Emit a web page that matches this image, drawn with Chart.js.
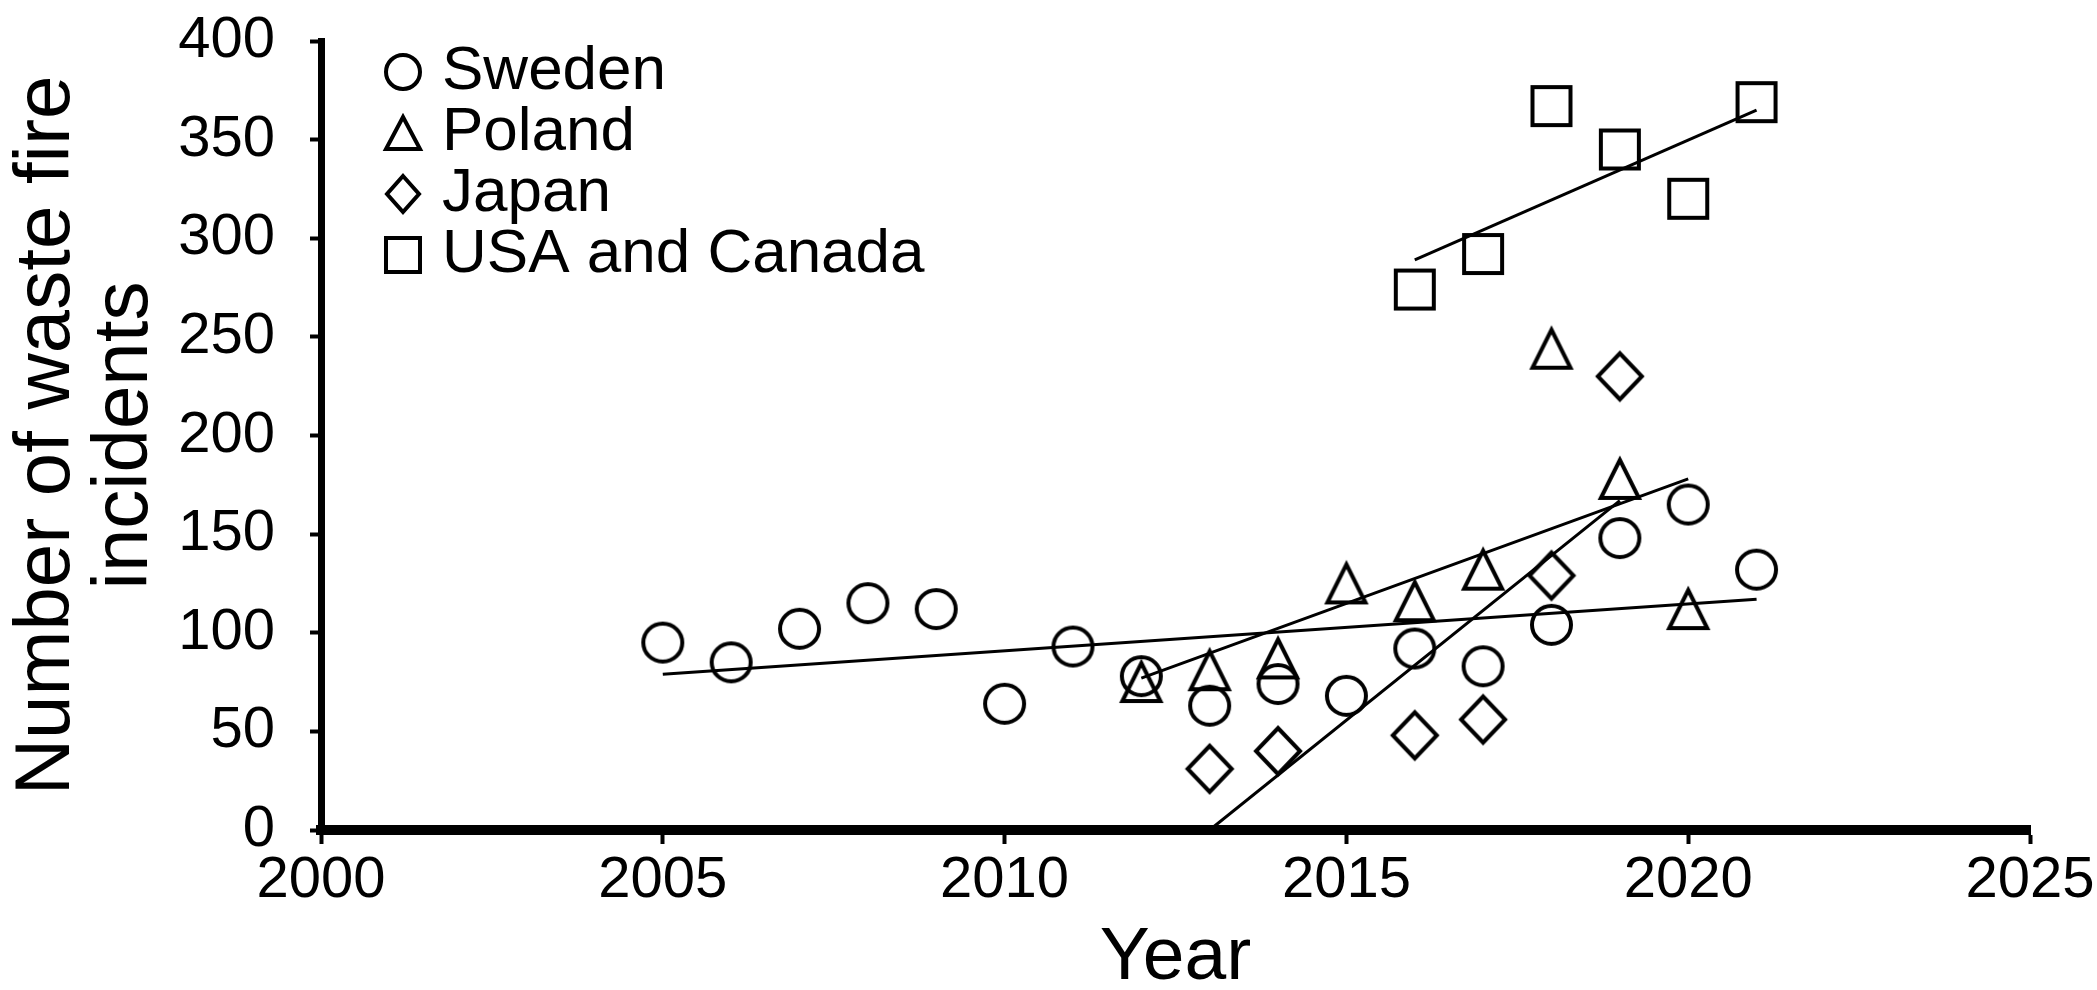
<!DOCTYPE html>
<html>
<head>
<meta charset="utf-8">
<script src="https://cdn.jsdelivr.net/npm/chart.js@4"></script>
<style>
html,body{margin:0;background:#fff}
#wrap{width:2097px;height:990px;position:relative}
</style>
</head>
<body>
<div id="wrap"><canvas id="chart"></canvas></div>
<script>
// values
const SE_YEARS = [2005,2006,2007,2008,2009,2010,2011,2012,2013,2014,2015,2016,2017,2018,2019,2020,2021];
const SE_VALUES = [95,85,102,115,112,64,93,78,63,74,68,92,83,104,148,165,132];
const PL_YEARS = [2012,2013,2014,2015,2016,2017,2018,2019,2020];
const PL_VALUES = [75,81,87,125,116,132,244,178,112];
const JP_YEARS = [2013,2014,2016,2017,2018,2019];
const JP_VALUES = [31,40,48,56,129,230];
const US_YEARS = [2016,2017,2018,2019,2020,2021];
const US_VALUES = [274,292,367,345,320,369];

// trend line end points
const SE_TREND_X = [2005,2021], SE_TREND_Y = [79,117];
const PL_TREND_X = [2012,2020], PL_TREND_Y = [77,178];
const JP_TREND_X = [2013,2019], JP_TREND_Y = [0,167];
const US_TREND_X = [2016,2021], US_TREND_Y = [289,365];

const X_TICKS = [2000,2005,2010,2015,2020,2025];
const Y_TICKS = [0,50,100,150,200,250,300,350,400];

const FONT = "'Liberation Sans', Arial, sans-serif";
Chart.defaults.font.family = FONT;
Chart.defaults.color = '#000';

// outline marker drawn on a small canvas; dx moves the shape off the image centre
function marker(kind, w, h, dx){
  dx = dx || 0;
  const c = document.createElement('canvas');
  c.width = w + 8 + 2*Math.abs(dx); c.height = h + 8;
  const g = c.getContext('2d');
  g.lineWidth = 4; g.strokeStyle = '#000';
  const cx = c.width/2 + dx, cy = c.height/2, rx = w/2 - 2, ry = h/2 - 2;
  g.beginPath();
  if(kind==='circle') g.ellipse(cx,cy,rx,ry,0,0,Math.PI*2);
  else if(kind==='triangle'){ g.moveTo(cx,cy-ry); g.lineTo(cx+rx,cy+ry); g.lineTo(cx-rx,cy+ry); g.closePath(); }
  else if(kind==='diamond'){ g.moveTo(cx,cy-ry); g.lineTo(cx+rx,cy); g.lineTo(cx,cy+ry); g.lineTo(cx-rx,cy); g.closePath(); }
  else g.rect(cx-rx,cy-ry,rx*2,ry*2);
  g.stroke();
  return c;
}

// legend marks sit 32px right of where the legend box would centre them
const LEGEND_MARKS = [
  marker('circle',38,38,32), marker('triangle',38,36,32),
  marker('diamond',36,40,32), marker('rect',38,38,32)
];

const pairs = (xs, ys) => xs.map((x,i)=>({x, y: ys[i]}));

function points(label, xs, ys, style){
  return {label, data: pairs(xs, ys), pointStyle: style, pointRadius: 20, pointHoverRadius: 20,
    borderColor:'#000', backgroundColor:'rgba(0,0,0,0)', order: 1};
}
function trend(xs, ys){
  return {label:'', data: pairs(xs, ys), showLine:true, pointRadius:0, borderColor:'#000',
    borderWidth:3, fill:false, order: 0};
}

// legend sits inside the plot, top-left, like the reference
const legendPlace = {
  id:'legendPlace',
  afterLayout(ch){
    const lg = ch.legend, ca = ch.chartArea; if(!lg) return;
    const w = lg.width, h = lg.height;
    lg.left = ca.left + 11; lg.right = lg.left + w;
    lg.top = ca.top + 1; lg.bottom = lg.top + h;
  }
};

new Chart(document.getElementById('chart'), {
  type:'scatter',
  data:{datasets:[
    points('Sweden', SE_YEARS, SE_VALUES, marker('circle',43,42)),
    points('Poland', PL_YEARS, PL_VALUES, marker('triangle',42,42)),
    points('Japan', JP_YEARS, JP_VALUES, marker('diamond',48,50)),
    points('USA and Canada', US_YEARS, US_VALUES, marker('rect',42,42)),
    trend(SE_TREND_X, SE_TREND_Y),
    trend(PL_TREND_X, PL_TREND_Y),
    trend(JP_TREND_X, JP_TREND_Y),
    trend(US_TREND_X, US_TREND_Y),
  ]},
  options:{
    responsive:true, maintainAspectRatio:false, animation:false,
    layout:{padding:{top:41,right:67,left:0,bottom:0}},
    plugins:{
      tooltip:{enabled:false},
      legend:{
        position:'chartArea', align:'start', fullSize:false,
        labels:{usePointStyle:true, pointStyleWidth:80, padding:-1, color:'#000',
          font:{size:62, family:FONT},
          generateLabels(ch){
            const items = Chart.defaults.plugins.legend.labels.generateLabels(ch);
            items.forEach(it => { it.pointStyle = LEGEND_MARKS[it.datasetIndex]; });
            return items;
          },
          filter: it => !!it.text}
      }
    },
    scales:{
      x:{
        type:'linear', min:2000, max:2025,
        afterBuildTicks: s => { s.ticks = X_TICKS.map(v=>({value:v})); },
        afterFit: s => { s.height = 160; },
        border:{display:true, color:'#000', width:10},
        grid:{drawOnChartArea:false, drawTicks:true, tickLength:14, tickWidth:4, color:'#000'},
        ticks:{color:'#000', font:{size:58}, padding:2, maxRotation:0, autoSkip:false, callback: v => String(v)},
        title:{display:true, text:'Year', color:'#000', font:{size:75, lineHeight:0.8}, padding:{top:0,bottom:2}}
      },
      y:{
        min:0, max:400,
        afterBuildTicks: s => { s.ticks = Y_TICKS.map(v=>({value:v})); },
        afterFit: s => { s.width = 321; s.paddingTop = 30; s.paddingBottom = 30; },
        border:{display:true, color:'#000', width:7},
        grid:{drawOnChartArea:false, drawTicks:true, tickLength:11, tickWidth:4, color:'#000'},
        ticks:{color:'#000', font:{size:58}, padding:35, autoSkip:false},
        title:{display:true, text:['Number of waste fire','incidents'], color:'#000',
          font:{size:78, lineHeight:1.0}, padding:{top:8,bottom:0}}
      }
    }
  },
  plugins:[legendPlace]
});
</script>
</body>
</html>
